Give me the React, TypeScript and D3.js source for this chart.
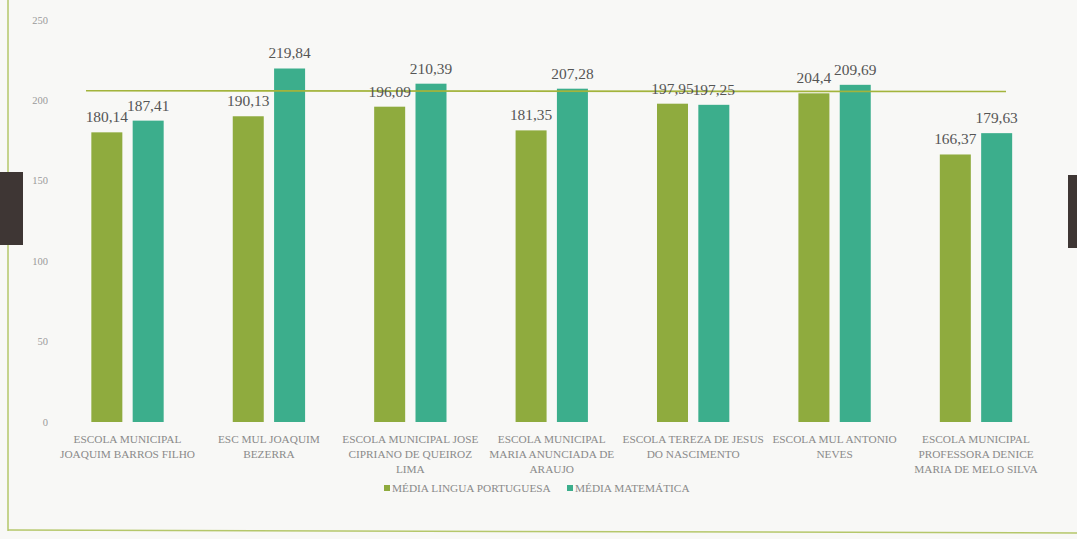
import React from 'react'
import * as d3 from 'd3'

const schools = [
    ['ESCOLA MUNICIPAL', 'JOAQUIM BARROS FILHO'],
    ['ESC MUL JOAQUIM', 'BEZERRA'],
    ['ESCOLA MUNICIPAL JOSE', 'CIPRIANO DE QUEIROZ', 'LIMA'],
    ['ESCOLA MUNICIPAL', 'MARIA ANUNCIADA DE', 'ARAUJO'],
    ['ESCOLA TEREZA DE JESUS', 'DO NASCIMENTO'],
    ['ESCOLA MUL ANTONIO', 'NEVES'],
    ['ESCOLA MUNICIPAL', 'PROFESSORA DENICE', 'MARIA DE MELO SILVA'],
]
const portugues = [180.14, 190.13, 196.09, 181.35, 197.95, 204.4, 166.37]
const matematica = [187.41, 219.84, 210.39, 207.28, 197.25, 209.69, 179.63]
const seriesNames = ['MÉDIA LINGUA PORTUGUESA', 'MÉDIA MATEMÁTICA']
const yTicks = [0, 50, 100, 150, 200, 250]
const metaLine = 206

const W = 1077
const H = 539
const colors = ['#8fab3e', '#3cae8c']
const font = 'Liberation Serif'

export default function App() {
    const y = d3.scaleLinear().domain([0, 250]).range([422, 20])
    const ids = schools.map((_, i) => String(i))
    const x0 = d3.scaleBand<string>().domain(ids).range([56.8, 1046.7]).paddingInner(0.43).paddingOuter(0.215)
    const x1 = d3.scaleBand<number>().domain([0, 1]).range([0, x0.bandwidth()]).paddingInner(0.25).paddingOuter(0.1)
    const series = [portugues, matematica]
    const fmt = (v: number) => String(v).replace('.', ',')
    const cx = (id: string) => (x0(id) ?? 0) + x0.bandwidth() / 2

    return (
        <svg width={W} height={H} style={{ position: 'absolute', left: 0, top: 0 }}>
            <rect width={W} height={H} fill="#f8f8f6" />
            {/* frame */}
            <line x1={8} x2={8} y1={0} y2={531} stroke="#b5c76a" strokeWidth={1.5} />
            <line x1={8} x2={W} y1={530} y2={533} stroke="#b5c76a" strokeWidth={1.5} />

            {yTicks.map(t => (
                <text key={t} x={48} y={y(t)} dy="0.35em" textAnchor="end" fontFamily={font} fontSize={10.5} fill="#9a9a9a">{t}</text>
            ))}

            {ids.map((id, i) => (
                <g key={id} transform={`translate(${x0(id)},0)`}>
                    {series.map((s, k) => (
                        <rect key={k} x={x1(k)} y={y(s[i])} width={x1.bandwidth()} height={y(0) - y(s[i])} fill={colors[k]} />
                    ))}
                </g>
            ))}

            <line x1={86} x2={1006} y1={y(metaLine)} y2={y(metaLine) + 0.8} stroke="#a3b43c" strokeWidth={1.6} />

            {ids.map((id, i) => (
                <g key={id}>
                    {series.map((s, k) => (
                        <text key={k} x={(x0(id) ?? 0) + (x1(k) ?? 0) + x1.bandwidth() / 2} y={y(s[i]) - 10}
                            textAnchor="middle" fontFamily={font} fontSize={15.4} fill="#555">{fmt(s[i])}</text>
                    ))}
                </g>
            ))}

            {ids.map((id, i) => (
                <text key={id} x={cx(id)} y={443} textAnchor="middle" fontFamily={font} fontSize={11.3} fill="#8a8a8a">
                    {schools[i].map((line, j) => (
                        <tspan key={j} x={cx(id)} dy={j === 0 ? 0 : 14.8}>{line}</tspan>
                    ))}
                </text>
            ))}

            {/* legend */}
            {seriesNames.map((name, k) => {
                const lx = k === 0 ? 384 : 567
                return (
                    <g key={name} transform={`translate(${lx},488)`}>
                        <rect x={0} y={-3} width={6} height={6} fill={colors[k]} />
                        <text x={8} y={0} dy="0.35em" fontFamily={font} fontSize={11.3} fill="#8a8a8a">{name}</text>
                    </g>
                )
            })}

            {/* scan clips */}
            <rect x={0} y={172} width={23} height={73} fill="#3e3634" />
            <rect x={1068} y={175} width={9} height={73} fill="#3e3634" />
        </svg>
    )
}
